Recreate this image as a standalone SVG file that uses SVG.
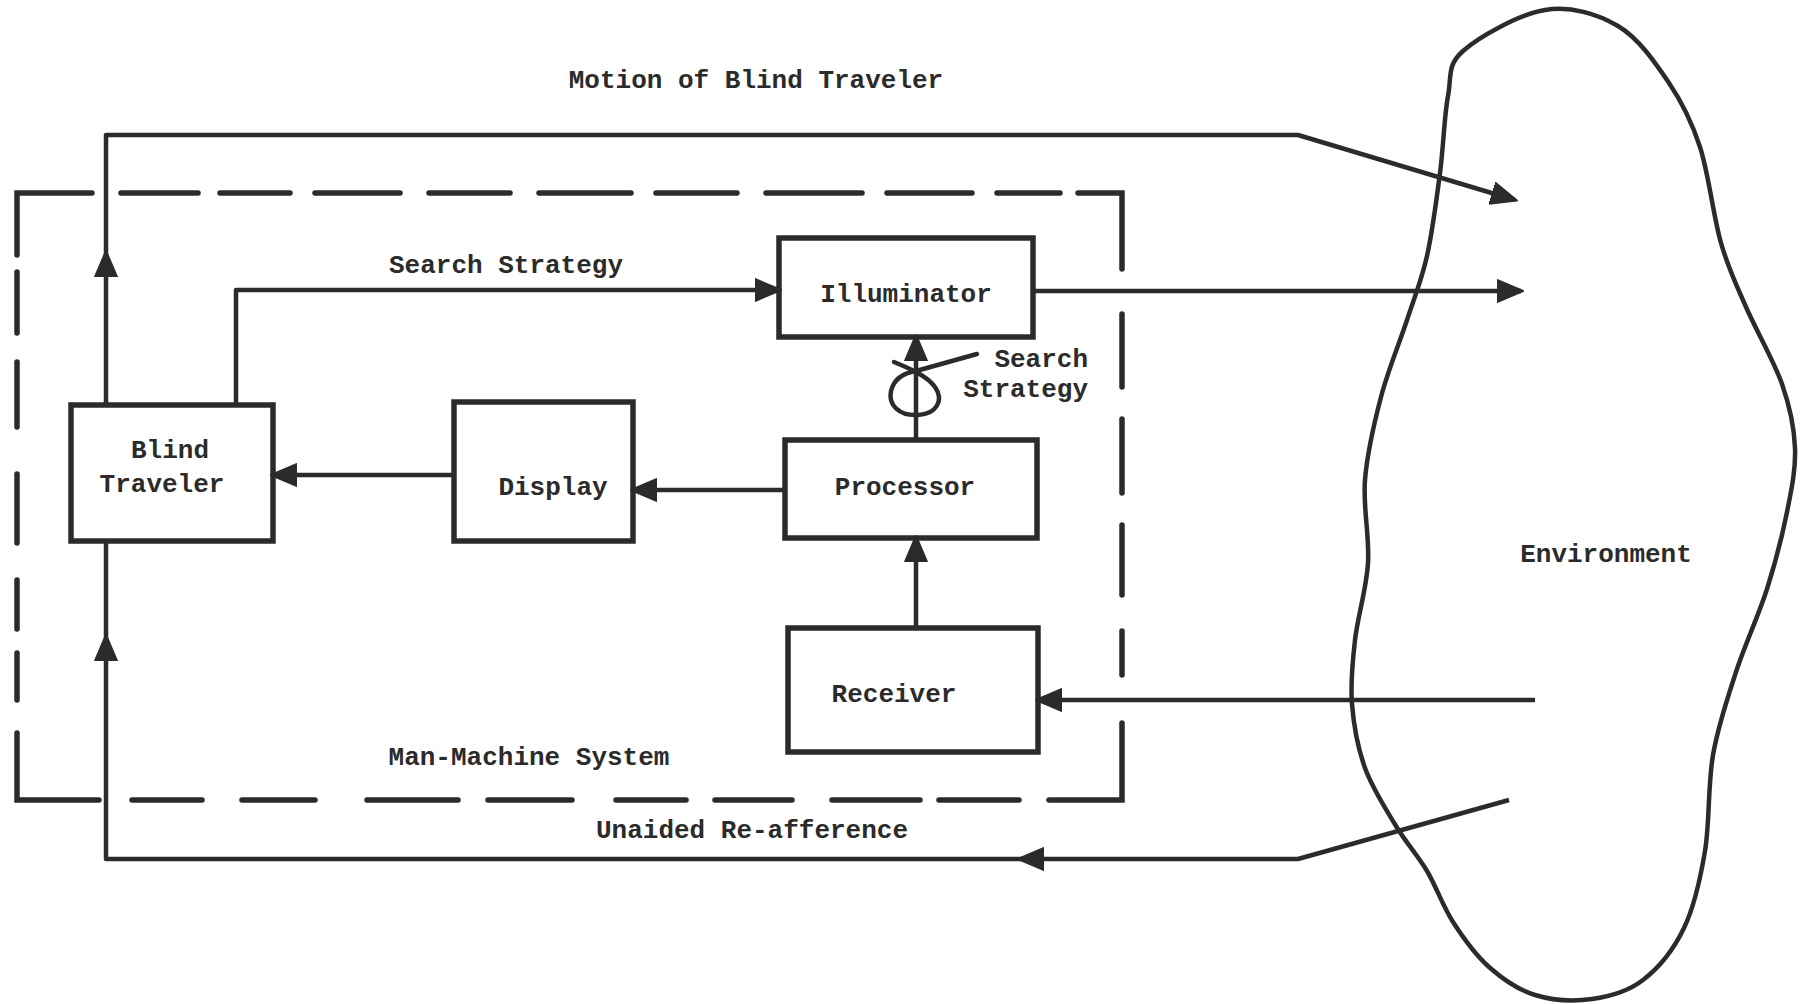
<svg xmlns="http://www.w3.org/2000/svg" width="1807" height="1004" viewBox="0 0 1807 1004">
  <style>
    .box { fill: none; stroke: #2b2b2b; stroke-width: 5.5; stroke-linejoin: miter; }
    .wire { fill: none; stroke: #2b2b2b; stroke-width: 4.5; stroke-linejoin: round; }
    .dash { fill: none; stroke: #2b2b2b; stroke-width: 5.5; stroke-linecap: round; stroke-linejoin: miter; }
    .blob { fill: none; stroke: #2b2b2b; stroke-width: 4.5; }
    .lbl { font-family: "Liberation Mono", "DejaVu Sans Mono", monospace; font-weight: bold; font-size: 26px; fill: #2b2b2b; }
    .mid { text-anchor: middle; }
    .end { text-anchor: end; }
  </style>
  <defs>
    <marker id="arrow" markerUnits="userSpaceOnUse" markerWidth="30" markerHeight="26" refX="24" refY="12" orient="auto">
      <path d="M0,1 L26,12 L0,23 Z" fill="#2b2b2b" stroke="#2b2b2b" stroke-width="2" stroke-linejoin="round"/>
    </marker>
  </defs>
  <rect width="1807" height="1004" fill="#ffffff"/>

  <!-- Environment outline -->
  <g id="environment">
    <path class="blob" d="M1545,10 C1570.8,5.8 1597.3,13.8 1618,26 S1655.3,62.8 1669,83 S1691.3,120.3 1700,147 S1713.3,216.3 1721,243 S1735.8,283.5 1746,307 S1773.8,360.5 1782,384 S1794.2,426.7 1795,448 S1791.7,488.5 1787,512 S1775.5,562.3 1767,589 S1745,644.3 1736,672 S1718.2,725.2 1713,755 S1709.8,822.2 1705,851 S1694.3,906.5 1684,928 S1658.3,968.2 1643,980 S1610,996.5 1592,999 S1552.2,1000.3 1535,995 S1502.7,979.2 1489,967 S1463.3,938 1453,922 S1436.5,887 1427,871 S1406.3,843.2 1396,826 S1372.3,788.3 1365,768 S1353.7,725.3 1352,704 S1352.3,663.5 1355,640 S1366.3,589.7 1368,563 S1362.8,507.7 1365,480 S1374,423.7 1381,397 S1399.3,343.5 1407,320 S1421.5,280.5 1427,256 S1436.5,199.7 1440,173 S1444.2,116.3 1448,96 S1446.8,65.3 1463,51 S1519.2,14.2 1545,10 Z"/>
    <text class="lbl mid" x="1606" y="562">Environment</text>
  </g>

  <!-- Man-machine system boundary -->
  <g id="man-machine-system">
    <path class="dash" d="M17,255 L17,193 L92,193 M121,193 L198,193 M220,193 L290,193 M315,193 L400,193 M429,193 L510,193 M539,193 L631,193 M656,193 L737,193 M766,193 L862,193 M887,193 L972,193 M997,193 L1060,193 M1078,193 L1122,193 L1122,269 M1122,314 L1122,387 M1122,419 L1122,493 M1122,525 L1122,595 M1122,631 L1122,675 M1122,723 L1122,800 L1049,800 M1019,800 L939,800 M920,800 L832,800 M792,800 L715,800 M686,800 L616,800 M572,800 L488,800 M458,800 L367,800 M315,800 L242,800 M202,800 L132,800 M99,800 L17,800 L17,733 M17,700 L17,653 M17,629 L17,580 M17,543 L17,474 M17,427 L17,362 M17,333 L17,272"/>
    <text class="lbl mid" x="529" y="765">Man-Machine System</text>
  </g>

  <g id="blind-traveler">
    <rect class="box" x="71" y="405" width="202" height="136"/>
    <text class="lbl mid" x="170" y="458">Blind</text>
    <text class="lbl mid" x="162" y="492">Traveler</text>
  </g>

  <g id="display">
    <rect class="box" x="454" y="402" width="179" height="139"/>
    <text class="lbl mid" x="553" y="495">Display</text>
  </g>

  <g id="illuminator">
    <rect class="box" x="779" y="238" width="254" height="99"/>
    <text class="lbl mid" x="906" y="302">Illuminator</text>
  </g>

  <g id="processor">
    <rect class="box" x="785" y="440" width="252" height="98"/>
    <text class="lbl mid" x="905" y="495">Processor</text>
  </g>

  <g id="receiver">
    <rect class="box" x="788" y="628" width="250" height="124"/>
    <text class="lbl mid" x="894" y="702">Receiver</text>
  </g>

  <!-- Connectors -->
  <g id="connectors">
    <!-- motion of the traveler into the environment -->
    <path class="wire" d="M106,405 L106,253" marker-end="url(#arrow)"/>
    <path class="wire" d="M106,253 L106,135 L1298,135 L1515,200" marker-end="url(#arrow)"/>
    <!-- search strategy to illuminator -->
    <path class="wire" d="M236,405 L236,290 L779,290" marker-end="url(#arrow)"/>
    <!-- illuminator to environment -->
    <path class="wire" d="M1033,291 L1521,291" marker-end="url(#arrow)"/>
    <!-- environment to receiver -->
    <path class="wire" d="M1535,700 L1038,700" marker-end="url(#arrow)"/>
    <!-- receiver to processor -->
    <path class="wire" d="M916,628 L916,538" marker-end="url(#arrow)"/>
    <!-- processor to illuminator -->
    <path class="wire" d="M916,440 L916,337" marker-end="url(#arrow)"/>
    <!-- processor to display -->
    <path class="wire" d="M785,490 L633,490" marker-end="url(#arrow)"/>
    <!-- display to blind traveler -->
    <path class="wire" d="M454,475 L273,475" marker-end="url(#arrow)"/>
    <!-- unaided re-afference -->
    <path class="wire" d="M1509,800 L1298,859 L1020,859" marker-end="url(#arrow)"/>
    <path class="wire" d="M1020,859 L106,859 L106,637" marker-end="url(#arrow)"/>
    <path class="wire" d="M106,637 L106,541"/>
    <!-- hand-drawn loop marking the search-strategy control -->
    <path class="wire" stroke-width="5.5" stroke-linecap="round" d="M894,362 C911,369 927,376 935,387 C944,400 937,414 918,415 C899,416 888,405 891,391 C894,379 903,373 916,371 L977,354"/>
  </g>

  <!-- Free labels -->
  <text class="lbl mid" x="756" y="88">Motion of Blind Traveler</text>
  <text class="lbl mid" x="506" y="273">Search Strategy</text>
  <text class="lbl end" x="1088" y="367">Search</text>
  <text class="lbl end" x="1088" y="397">Strategy</text>
  <text class="lbl mid" x="752" y="838">Unaided Re-afference</text>
</svg>
